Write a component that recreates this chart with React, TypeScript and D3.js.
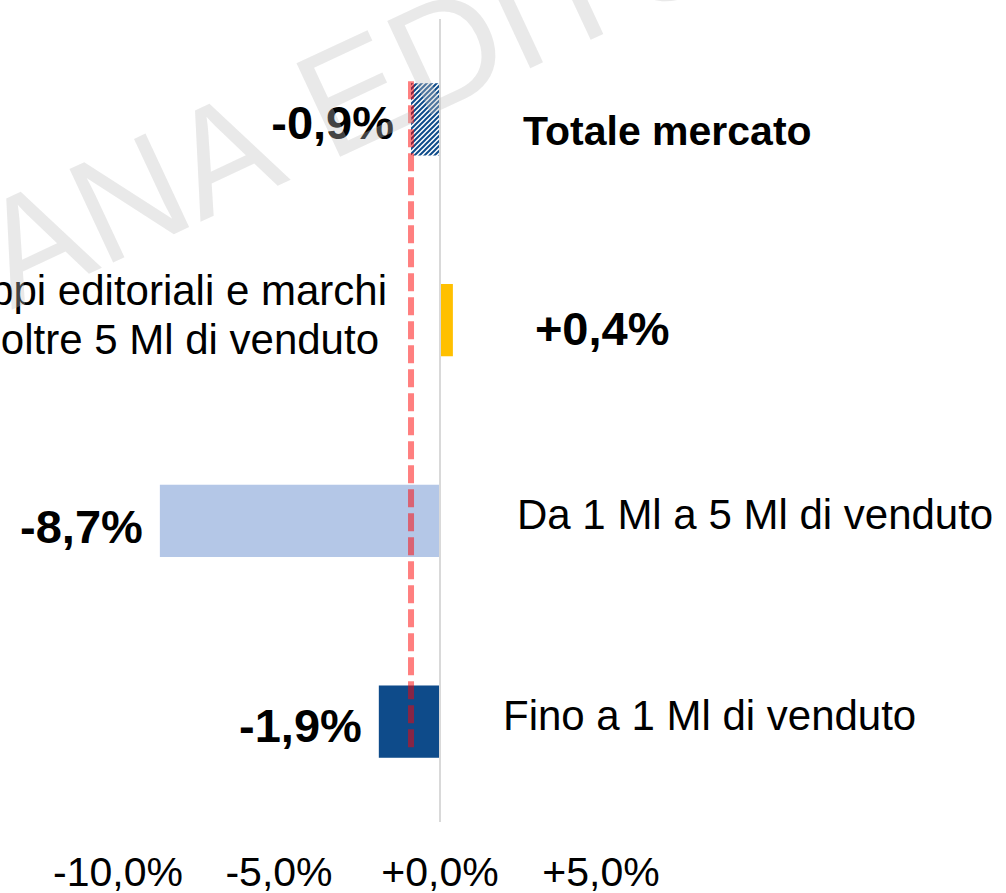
import React from 'react';
import * as d3 from 'd3';

const categories = [
  'Totale mercato',
  'Gruppi editoriali e marchi oltre 5 Ml di venduto',
  'Da 1 Ml a 5 Ml di venduto',
  'Fino a 1 Ml di venduto',
];
const categoryLines = [
  ['Totale mercato'],
  ['Gruppi editoriali e marchi', 'oltre 5 Ml di venduto'],
  ['Da 1 Ml a 5 Ml di venduto'],
  ['Fino a 1 Ml di venduto'],
];
const values = [-0.9, 0.4, -8.7, -1.9];
const barColors = ['url(#hatch)', '#ffc000', '#b4c7e7', '#0e4b8a'];
const totalMarket = -0.9;
const xTicks = [-10, -5, 0, 5];

// small hand nudges for the free-floating text boxes
const catDx = [83, -53, 77, 63];
const catDy = [11, -5, -7, -6];
const valDy = [3, 8, 6, 4];

const locale = d3.formatLocale({
  decimal: ',',
  thousands: '.',
  grouping: [3],
  currency: ['', '€'],
  minus: '-',
});
const fmt = locale.format('+.1f');
const pct = (v: number) => `${fmt(v)}%`;

const App: React.FC = () => {
  const width = 1006;
  const height = 893;
  const font = "'Liberation Sans', Arial, sans-serif";

  const x = d3.scaleLinear().domain([-10, 5]).range([118, 601]);
  const y = d3.scaleBand<string>().domain(categories).range([19, 822]).padding(0);
  const barH = y.bandwidth() * 0.36;
  const cy = (c: string) => (y(c) || 0) + y.bandwidth() / 2;

  const lineTop = cy(categories[0]) - barH / 2 - 2;
  const lineBottom = cy(categories[3]) + barH / 2 - 10;

  // watermark anchored at the "E"
  const wmX = 329;
  const wmY = 162;

  return (
    <svg
      width={width}
      height={height}
      viewBox={`0 0 ${width} ${height}`}
      style={{ position: 'absolute', left: 0, top: 0, background: '#fff' }}
      fontFamily={font}
    >
      <defs>
        <pattern id="hatch" width={5} height={5} patternUnits="userSpaceOnUse">
          <rect width={5} height={5} fill="#fff" />
          <path
            d="M-1,1 L1,-1 M0,5 L5,0 M4,6 L6,4"
            stroke="#0e4b8a"
            strokeWidth={2}
          />
        </pattern>
      </defs>

      {/* bars */}
      {categories.map((c, i) => {
        const v = values[i];
        const x0 = x(Math.min(0, v));
        const x1 = x(Math.max(0, v));
        return (
          <rect
            key={c}
            x={x0}
            y={cy(c) - barH / 2}
            width={x1 - x0}
            height={barH}
            fill={barColors[i]}
          />
        );
      })}

      {/* zero axis */}
      <line x1={x(0)} x2={x(0)} y1={y.range()[0]} y2={y.range()[1]} stroke="#d9d9d9" strokeWidth={2} />

      {/* total market reference */}
      <line
        x1={x(totalMarket)}
        x2={x(totalMarket)}
        y1={lineTop}
        y2={lineBottom}
        stroke="#ff0000"
        strokeOpacity={0.5}
        strokeWidth={6}
        strokeDasharray="18,6"
      />

      {/* value labels */}
      {categories.map((c, i) => {
        const v = values[i];
        const neg = v < 0;
        return (
          <text
            key={c}
            x={neg ? x(v) - 17 : x(v) + 82}
            y={cy(c) + valDy[i]}
            dy="0.35em"
            textAnchor={neg ? 'end' : 'start'}
            fontSize={47}
            fontWeight="bold"
            fill="#000"
          >
            {pct(v)}
          </text>
        );
      })}

      {/* category labels */}
      {categories.map((c, i) => {
        const lines = categoryLines[i];
        const left = values[i] > 0;
        const lh = 49;
        const startY = cy(c) + catDy[i] - ((lines.length - 1) * lh) / 2;
        return (
          <text
            key={c}
            x={x(0) + catDx[i]}
            y={startY}
            textAnchor={left ? 'end' : 'start'}
            fontSize={i === 0 ? 41 : 42}
            fontWeight={i === 0 ? 'bold' : 'normal'}
            fill="#000"
          >
            {lines.map((l, k) => (
              <tspan
                key={k}
                x={x(0) + catDx[i] - (left ? k * 8 : 0)}
                dy={k === 0 ? '0.35em' : lh}
              >
                {l}
              </tspan>
            ))}
          </text>
        );
      })}

      {/* x tick labels */}
      {xTicks.map(t => (
        <text key={t} x={x(t)} y={872} dy="0.35em" textAnchor="middle" fontSize={41} fill="#000">
          {pct(t)}
        </text>
      ))}

      {/* watermark */}
      <g transform={`translate(${wmX},${wmY}) rotate(-25)`} fill="#bfbfbf" fillOpacity={0.35} fontSize={150}>
        <text x={-42} textAnchor="end">ITALIANA</text>
        <text x={0} textAnchor="start">EDITORI</text>
      </g>
    </svg>
  );
};

export default App;
